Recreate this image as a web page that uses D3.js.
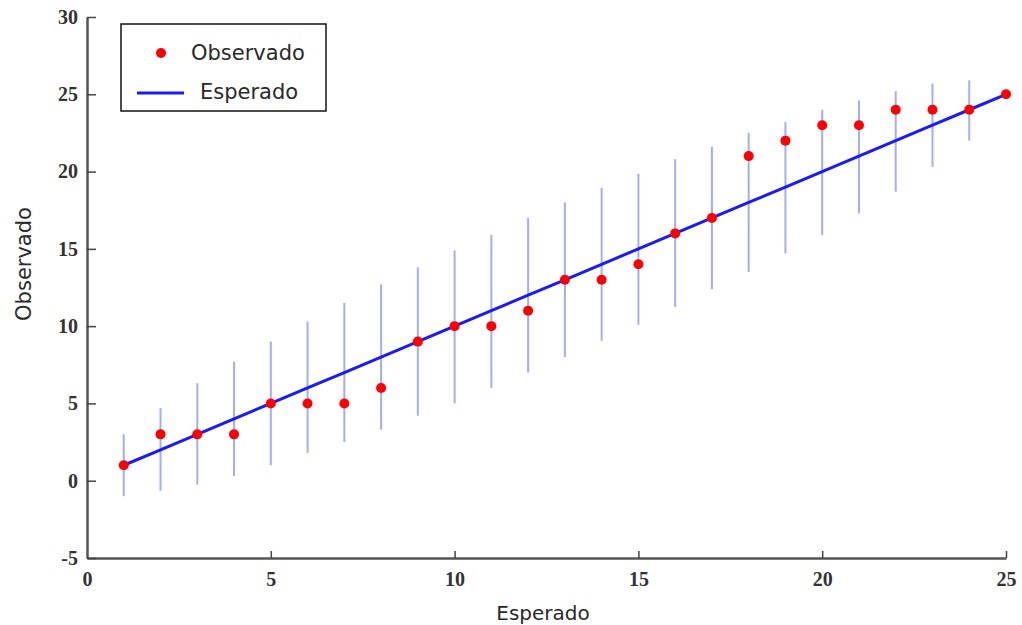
<!DOCTYPE html>
<html>
<head>
<meta charset="utf-8">
<script src="https://cdn.jsdelivr.net/npm/d3@7"></script>
<style>
  body { margin: 0; background: #fff; }
  svg { display: block; }
</style>
</head>
<body>
<script>
// data
const esperado = [1, 2, 3, 4, 5, 6, 7, 8, 9, 10, 11, 12, 13, 14, 15, 16, 17, 18, 19, 20, 21, 22, 23, 24, 25];
const observado = [1, 3, 3, 3, 5, 5, 5, 6, 9, 10, 10, 11, 13, 13, 14, 16, 17, 21, 22, 23, 23, 24, 24, 24, 25];
const lower = [-1, -0.65, -0.25, 0.3, 1.0, 1.8, 2.5, 3.3, 4.2, 5.0, 6.0, 7.0, 8.0, 9.05, 10.1, 11.25, 12.4, 13.5, 14.7, 15.9, 17.3, 18.7, 20.3, 22.0, null];
const upper = [3, 4.7, 6.3, 7.7, 9.0, 10.3, 11.5, 12.7, 13.8, 14.9, 15.9, 17.0, 18.0, 18.95, 19.85, 20.8, 21.6, 22.5, 23.2, 24.0, 24.6, 25.2, 25.7, 25.9, null];
const xTicks = [0, 5, 10, 15, 20, 25];
const yTicks = [-5, 0, 5, 10, 15, 20, 25, 30];

const w = 1022;
const h = 625;

const x = d3.scaleLinear().domain([0, 25]).range([87, 1006]);
const y = d3.scaleLinear().domain([-5, 30]).range([558, 17]);

const svg = d3.select("body")
  .append("svg")
  .attr("width", w)
  .attr("height", h);

// error bars
const bars = esperado.map((e, i) => ({ e, lo: lower[i], hi: upper[i] })).filter(d => d.lo !== null);
svg.selectAll("line.bar")
  .data(bars)
  .enter()
  .append("line")
  .attr("class", "bar")
  .attr("x1", d => x(d.e))
  .attr("x2", d => x(d.e))
  .attr("y1", d => y(d.lo))
  .attr("y2", d => y(d.hi))
  .attr("stroke", "#a3abff")
  .attr("stroke-width", 2);

// expected line
svg.append("path")
  .datum(esperado)
  .attr("d", d3.line().x(d => x(d)).y(d => y(d)))
  .attr("fill", "none")
  .attr("stroke", "#1a1aff")
  .attr("stroke-width", 3);

// observed points
svg.selectAll("circle.obs")
  .data(esperado.map((e, i) => ({ e, o: observado[i] })))
  .enter()
  .append("circle")
  .attr("class", "obs")
  .attr("cx", d => x(d.e))
  .attr("cy", d => y(d.o))
  .attr("r", 5)
  .attr("fill", "#ff0000");

// axes
const fmt = d => String(d);
const xAxis = svg.append("g")
  .attr("transform", `translate(0,${y(-5)})`)
  .call(d3.axisBottom(x).tickValues(xTicks).tickFormat(fmt).tickSizeInner(-7).tickSizeOuter(0).tickPadding(14));
const yAxis = svg.append("g")
  .attr("transform", `translate(${x(0)},0)`)
  .call(d3.axisLeft(y).tickValues(yTicks).tickFormat(fmt).tickSizeInner(-9).tickSizeOuter(0).tickPadding(9));

[xAxis, yAxis].forEach(g => {
  g.select(".domain").attr("stroke", "#555").attr("stroke-width", 2.5);
  g.selectAll(".tick line").attr("stroke", "#444").attr("stroke-width", 1.5);
  g.selectAll(".tick text")
    .attr("fill", "#333")
    .attr("font-family", "'Liberation Serif', serif")
    .attr("font-weight", "bold")
    .attr("font-size", 20);
});
xAxis.selectAll(".tick").filter(d => d === 0).select("line").remove();

// axis titles
svg.append("text")
  .attr("x", 543)
  .attr("y", 620)
  .attr("text-anchor", "middle")
  .attr("font-family", "'DejaVu Sans', sans-serif")
  .attr("font-size", 20)
  .attr("fill", "#2a2a2a")
  .text("Esperado");

svg.append("text")
  .attr("transform", "translate(31,264) rotate(-90)")
  .attr("text-anchor", "middle")
  .attr("font-family", "'DejaVu Sans', sans-serif")
  .attr("font-size", 21)
  .attr("fill", "#2a2a2a")
  .text("Observado");

// legend
const legend = svg.append("g");
legend.append("rect")
  .attr("x", 121)
  .attr("y", 24)
  .attr("width", 205)
  .attr("height", 87)
  .attr("fill", "#fff")
  .attr("stroke", "#111")
  .attr("stroke-width", 1.5);
legend.append("circle")
  .attr("cx", 161)
  .attr("cy", 53)
  .attr("r", 5)
  .attr("fill", "#ff0000");
legend.append("text")
  .attr("x", 191)
  .attr("y", 60)
  .attr("font-family", "'DejaVu Sans', sans-serif")
  .attr("font-size", 21)
  .attr("fill", "#2a2a2a")
  .text("Observado");
legend.append("line")
  .attr("x1", 137)
  .attr("x2", 184)
  .attr("y1", 93)
  .attr("y2", 93)
  .attr("stroke", "#1a1aff")
  .attr("stroke-width", 3);
legend.append("text")
  .attr("x", 200)
  .attr("y", 99)
  .attr("font-family", "'DejaVu Sans', sans-serif")
  .attr("font-size", 21)
  .attr("fill", "#2a2a2a")
  .text("Esperado");
</script>
</body>
</html>
